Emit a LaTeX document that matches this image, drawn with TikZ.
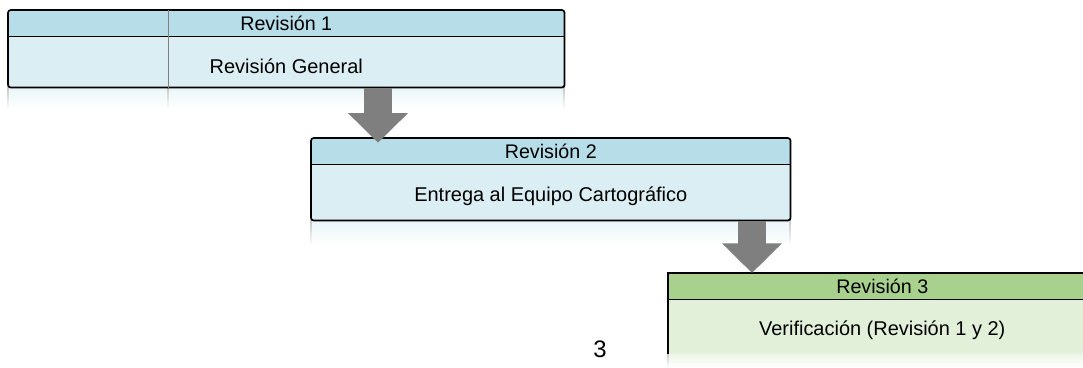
\documentclass[tikz,border=0pt]{standalone}
\usepackage{fontspec}
\setmainfont{Liberation Sans}
\usetikzlibrary{positioning,arrows.meta,calc}
\definecolor{headblue}{HTML}{B7DDE8}
\definecolor{bodyblue}{HTML}{DBEEF4}
\definecolor{headgreen}{HTML}{A9D18E}
\definecolor{bodygreen}{HTML}{E2F0D9}
\definecolor{arrowgray}{HTML}{7F7F7F}
\begin{document}
\begin{tikzpicture}[
    boxbody/.style={anchor=north west, inner sep=0pt, minimum height=#1},
    boxhead/.style={anchor=north, inner sep=0pt, minimum height=0.65cm,
                    font=\fontsize{14}{16}\selectfont},
    boxtext/.style={font=\fontsize{14.2}{16}\selectfont, yshift=-0.1cm},
    boxline/.style={draw=black, line width=1.2pt},
    bigarrow/.style={draw=arrowgray, line width=0.7cm,
                     -{Triangle[length=0.74cm,width=1.45cm]}}]
  \useasboundingbox (0,0) rectangle (27.075,9.175);

  % reflections under the boxes
  \shade[top color=bodyblue!60, bottom color=white] (0.2,7.0) rectangle (14.1,6.45);
  \shade[top color=bodyblue!60, bottom color=white] (7.775,3.675) rectangle (19.75,3.05);
  \shade[top color=bodygreen!70, bottom color=white] (16.7,0.35) rectangle (27.075,0);
  \foreach \x in {0.2,4.2,14.1} {
    \shade[top color=gray!45, bottom color=white] (\x-0.02,7.0) rectangle (\x+0.02,6.45);
  }
  \foreach \x in {7.775,19.75} {
    \shade[top color=gray!45, bottom color=white] (\x-0.02,3.675) rectangle (\x+0.02,3.05);
  }
  \shade[top color=gray!45, bottom color=white] (16.68,0.35) rectangle (16.72,0);

  % Revision 1
  \node[boxbody=1.925cm, minimum width=13.9cm, fill=bodyblue, rounded corners=2pt] (box1) at (0.2,8.925) {};
  \node[boxhead, minimum width=13.9cm, fill=headblue, rounded corners=2pt] (head1) at (box1.north) {Revisión 1};
  \draw[boxline, rounded corners=2pt] (box1.south west) rectangle (box1.north east);
  \draw[boxline] (head1.south west) -- (head1.south east);
  \draw[gray] ([xshift=4cm]box1.north west) -- ([xshift=4cm]box1.south west);
  \node[boxtext] (text1) at ($(head1.south)!0.5!(box1.south)$) {Revisión General};

  % Revision 2
  \node[boxbody=2.05cm, minimum width=11.975cm, fill=bodyblue, rounded corners=2pt] (box2) at (7.775,5.725) {};
  \node[boxhead, minimum width=11.975cm, fill=headblue, rounded corners=2pt] (head2) at (box2.north) {Revisión 2};
  \draw[boxline, rounded corners=2pt] (box2.south west) rectangle (box2.north east);
  \draw[boxline] (head2.south west) -- (head2.south east);
  \node[boxtext] (text2) at ($(head2.south)!0.5!(box2.south)$) {Entrega al Equipo Cartográfico};

  % Revision 3
  \node[boxbody=2.0cm, minimum width=10.7cm, fill=bodygreen] (box3) at (16.7,2.35) {};
  \node[boxhead, minimum width=10.7cm, fill=headgreen] (head3) at (box3.north) {Revisión 3};
  \draw[boxline] (box3.south west) -- (box3.north west) -- (box3.north east);
  \draw[boxline] (head3.south west) -- (head3.south east);
  \node[boxtext] (text3) at ($(head3.south)!0.5!(box3.south)$) {Verificación (Revisión 1 y 2)};

  % arrows
  \coordinate (a1) at (9.45,0);
  \coordinate (a2) at (18.8,0);
  \draw[bigarrow] (a1 |- box1.south) -- ([yshift=-0.12cm]a1 |- box2.north);
  \draw[bigarrow] (a2 |- box2.south) -- (a2 |- box3.north);

  \node[font=\fontsize{17}{20}\selectfont] (pnum) at (15.0,0.45) {3};
\end{tikzpicture}
\end{document}
